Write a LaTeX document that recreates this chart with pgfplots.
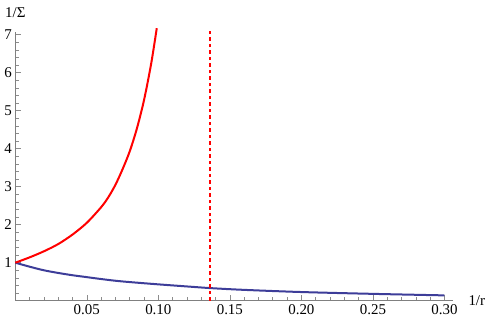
\documentclass[border=0pt]{standalone}
\usepackage{fontspec}
\setmainfont{Liberation Serif}
\usepackage{pgfplots}
\pgfplotsset{compat=1.18}
\definecolor{mblue}{rgb}{0.24,0.24,0.6}
\begin{document}
\begin{tikzpicture}
\useasboundingbox (-15.3bp,-25.3bp) rectangle (472.7bp,300.7bp);
\begin{axis}[
  at={(0,0)}, anchor=south west,
  scale only axis, width=437.7bp, height=268.7bp,
  xmin=0, xmax=0.306, ymin=0, ymax=7.07,
  axis lines=left,
  axis line style={-, black!50, line width=0.7bp},
  clip=false,
  tick align=inside,
  major tick length=6bp, minor tick length=3.5bp,
  every tick/.style={black!45, line width=0.6bp},
  xtick={0.05,0.10,0.15,0.20,0.25,0.30},
  xticklabels={0.05,0.10,0.15,0.20,0.25,0.30},
  minor xtick={0,0.01,...,0.305},
  ytick={1,2,3,4,5,6,7},
  minor ytick={0,0.2,...,7.05},
  /pgf/number format/assume math mode=true,
  tick label style={font=\fontsize{15}{15}\selectfont},
  xlabel={1/r}, ylabel={1/Σ},
  every axis x label/.style={at={(rel axis cs:1,0)}, anchor=west, xshift=12bp,
    font=\fontsize{15}{15}\selectfont},
  every axis y label/.style={at={(rel axis cs:0,1)}, anchor=south, yshift=11bp,
    font=\fontsize{15}{15}\selectfont},
]
\addplot[mblue, line width=2bp, smooth] coordinates {
  (0,1) (0.01,0.895) (0.02,0.80) (0.03,0.73) (0.04,0.67) (0.05,0.62)
  (0.06,0.57) (0.07,0.525) (0.08,0.49) (0.10,0.43) (0.12,0.375)
  (0.137,0.33) (0.16,0.285) (0.20,0.228) (0.25,0.18) (0.30,0.14)
};
\addplot[red, line width=2bp, smooth] coordinates {
  (0,1) (0.01,1.14) (0.02,1.30) (0.03,1.49) (0.04,1.74) (0.05,2.05)
  (0.06,2.46) (0.065,2.72) (0.07,3.05) (0.075,3.46) (0.08,3.93)
  (0.085,4.53) (0.09,5.28) (0.095,6.24) (0.0989,7.17)
};
\addplot[red, line width=2bp, dash pattern=on 3.5bp off 3bp] coordinates {
  (0.1364,0) (0.1364,7.13)
};
\end{axis}
\end{tikzpicture}
\end{document}
